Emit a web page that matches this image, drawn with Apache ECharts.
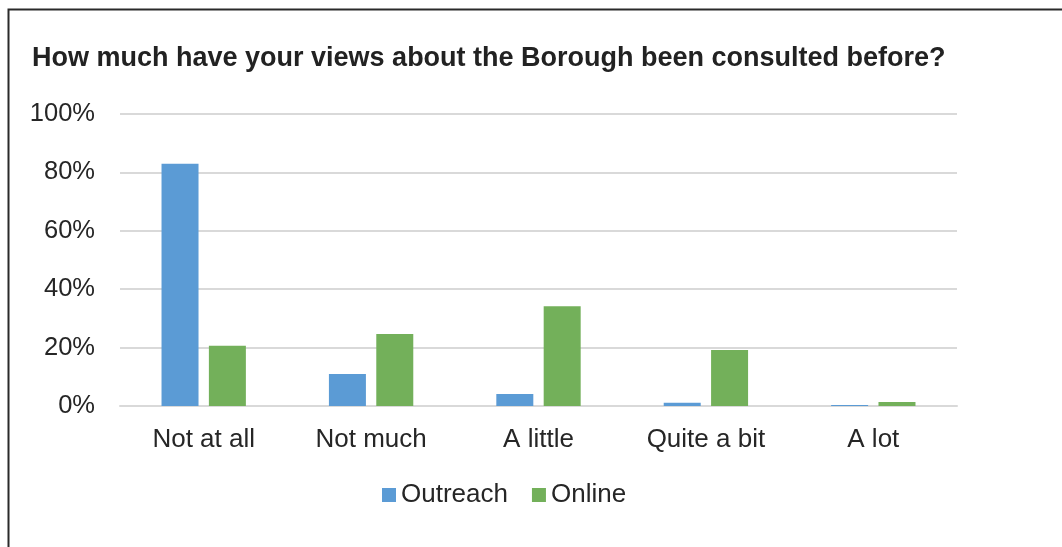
<!DOCTYPE html>
<html>
<head>
<meta charset="utf-8">
<script src="https://cdn.jsdelivr.net/npm/echarts@6/dist/echarts.min.js"></script>
<style>
html,body{margin:0;padding:0;background:#fff;}
#chart{width:1062px;height:547px;}
</style>
</head>
<body>
<div id="chart"></div>
<script>
var categories = ['Not at all', 'Not much', 'A little', 'Quite a bit', 'A lot'];
var outreach = [83, 11, 4.1, 1.1, 0.3];
var online = [20.6, 24.7, 34.2, 19.2, 1.4];
var yTicks = [0, 20, 40, 60, 80, 100];

var chart = echarts.init(document.getElementById('chart'));
var font = '"Liberation Sans", Arial, sans-serif';
chart.setOption({
  animation: false,
  backgroundColor: '#fff',
  title: {
    text: 'How much have your views about the Borough been consulted before?',
    left: 27, top: 40,
    textStyle: {fontFamily: font, fontWeight: 'bold', fontSize: 27, color: '#222'}
  },
  legend: {
    data: ['Outreach', 'Online'],
    left: 377, top: 477,
    icon: 'rect', itemWidth: 14, itemHeight: 14, itemGap: 24,
    textStyle: {fontFamily: font, fontSize: 26, color: '#262626', padding: [0, 0, 0, 0]}
  },
  grid: {left: 120, right: 105, top: 114, bottom: 141, containLabel: false},
  xAxis: {
    type: 'category', data: categories,
    axisLine: {lineStyle: {color: '#d9d9d9', width: 2}},
    axisTick: {show: false},
    axisLabel: {fontFamily: font, fontSize: 26, color: '#262626', margin: 21}
  },
  yAxis: {
    type: 'value', min: yTicks[0], max: yTicks[yTicks.length - 1], interval: 20,
    axisLine: {show: false}, axisTick: {show: false},
    splitLine: {lineStyle: {color: '#d9d9d9', width: 2}},
    axisLabel: {fontFamily: font, fontSize: 25.5, color: '#262626', margin: 25, formatter: '{value}%'}
  },
  series: [
    {name: 'Outreach', type: 'bar', data: outreach, barWidth: 37, barGap: '28%', itemStyle: {color: '#5b9bd5'}},
    {name: 'Online', type: 'bar', data: online, barWidth: 37, barGap: '28%', itemStyle: {color: '#73b05a'}}
  ],
  graphic: [{
    type: 'polyline',
    shape: {points: [[8.5, 547], [8.5, 9.5], [1062, 9.5]]},
    style: {stroke: '#2a2a2a', lineWidth: 2, fill: null}
  }]
});
</script>
</body>
</html>
